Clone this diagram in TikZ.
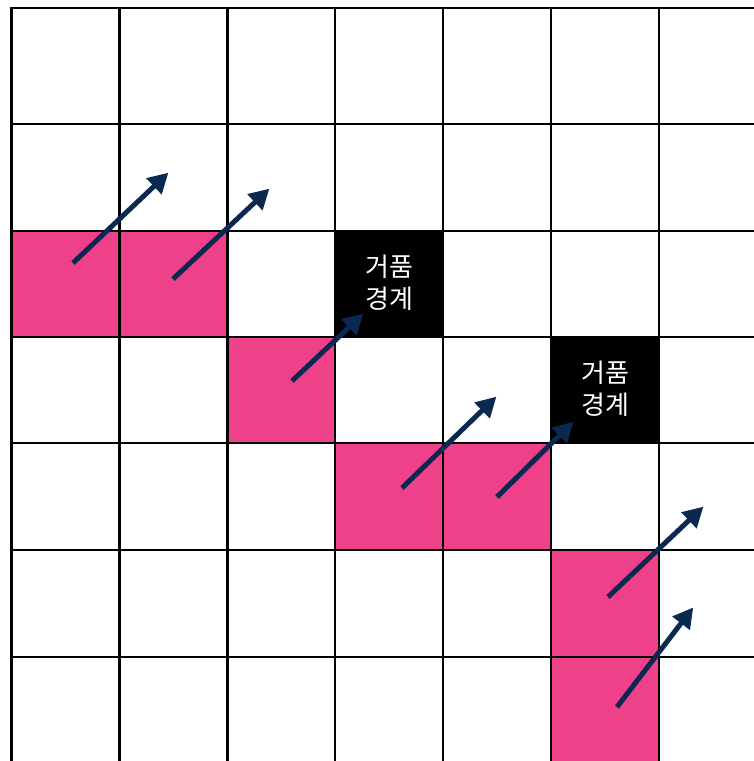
\documentclass[tikz,border=0pt]{standalone}
\usepackage{fontspec}
\newfontfamily\kr{Noto Sans CJK KR}
\usetikzlibrary{arrows.meta}
\definecolor{pinkc}{HTML}{EF408A}
\definecolor{navy}{HTML}{0B2850}
\begin{document}
\begin{tikzpicture}[x=1pt,y=-1pt,
  pinkcell/.style={fill=pinkc},
  blackcell/.style={fill=black},
  gridline/.style={line width=2.6pt,black},
  flow/.style={line width=5pt,navy,-{Triangle[length=20pt,width=21pt]},shorten >=-2pt},
  label/.style={text=white,font=\kr\fontsize{26}{32}\selectfont,align=center,inner sep=0pt}]
\useasboundingbox (0,0) rectangle (753,761);
% colored cells
\fill[pinkcell] (11.5,231) rectangle (119.5,337);
\fill[pinkcell] (119.5,231) rectangle (227.5,337);
\fill[pinkcell] (227.5,337) rectangle (335,443);
\fill[pinkcell] (335,443) rectangle (443,550);
\fill[pinkcell] (443,443) rectangle (551,550);
\fill[pinkcell] (551,550) rectangle (659,657);
\fill[pinkcell] (551,657) rectangle (659,765);
\fill[blackcell] (335,231) rectangle (443,337);
\fill[blackcell] (551,337) rectangle (659,443);
% grid
\foreach \x in {11.5,119.5,227.5,335,443,551,659}
  \draw[gridline] (\x,6.7) -- (\x,765);
\foreach \y in {8,124,231,337,443,550,657}
  \draw[gridline] (10.2,\y) -- (757,\y);
% labels
\node[label] (b1) at (389,283) {거품\\경계};
\node[label] (b2) at (605,389) {거품\\경계};
% arrows
\coordinate (t1) at (73,263);  \coordinate (h1) at (167,174);
\coordinate (t2) at (173,279); \coordinate (h2) at (268,190);
\coordinate (t3) at (292,381); \coordinate (h3) at (362,315);
\coordinate (t4) at (402,488); \coordinate (h4) at (495,398);
\coordinate (t5) at (497,497); \coordinate (h5) at (572,423);
\coordinate (t6) at (608,597); \coordinate (h6) at (702,508);
\coordinate (t7) at (617,707); \coordinate (h7) at (692,609);
\foreach \i in {1,...,7}
  \draw[flow] (t\i) -- (h\i);
\end{tikzpicture}
\end{document}
